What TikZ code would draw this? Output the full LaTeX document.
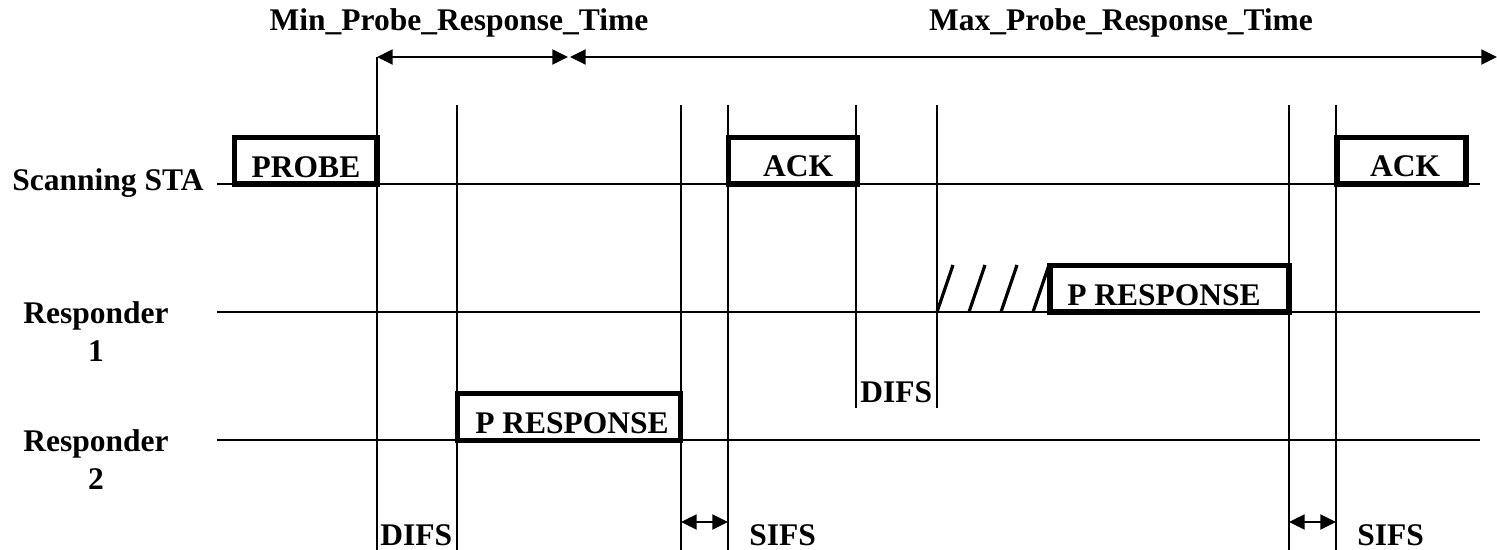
\documentclass[tikz,border=0pt]{standalone}
\usepackage{fontspec}
\setmainfont{Liberation Serif}
\usetikzlibrary{arrows.meta,positioning}
\tikzset{
    lane/.style={line width=1pt},
    tick/.style={line width=1pt},
    frame/.style={draw, line width=2.6pt, inner sep=0pt, minimum height=23.3pt},
    txt/.style={font=\fontsize{15.75}{19}\selectfont\bfseries, inner sep=0pt, align=center},
    dim/.style={{Triangle[length=7.8pt,width=7.5pt]}-{Triangle[length=7.8pt,width=7.5pt]}, line width=1pt},
    hatch/.style={line width=1.6pt},
}

\begin{document}
\begin{tikzpicture}[x=0.5pt, y=-0.5pt]
    \useasboundingbox (0,0) rectangle (1497,550);

    % stations
    \node[txt] (sta)   at (108,183) {Scanning STA};
    \node[txt] (resp1) at (96,332)  {Responder\\1};
    \node[txt] (resp2) at (96,460)  {Responder\\2};

    \coordinate (staL) at (217,184);  \coordinate (staR) at (1480,184);
    \coordinate (r1L)  at (217,312);  \coordinate (r1R)  at (1480,312);
    \coordinate (r2L)  at (217,440);  \coordinate (r2R)  at (1480,440);
    \draw[lane] (staL) -- (staR);
    \draw[lane] (r1L) -- (r1R);
    \draw[lane] (r2L) -- (r2R);

    % time marks
    \foreach \nm/\x/\ytop/\ybot in {t1/377/57/550, t2/457/105/550, t3/681/105/550,
        t4/728/105/550, t5/856/105/408, t6/937/105/408, t7/1289/105/550, t8/1336/105/550}
    {
        \coordinate (\nm-top) at (\x,\ytop);
        \coordinate (\nm-bot) at (\x,\ybot);
        \draw[tick] (\nm-top) -- (\nm-bot);
    }

    % frames
    \node[frame, minimum width=71.25pt] (probe) at (305.75,160.75) {};
    \node[frame, minimum width=64.5pt]  (ack1)  at (793,160.75) {};
    \node[frame, minimum width=64.5pt]  (ack2)  at (1401.5,160.75) {};
    \node[frame, minimum width=119.5pt] (presp1) at (1169.5,288.75) {};
    \node[frame, minimum width=111.5pt, minimum height=23.5pt] (presp2) at (569,417) {};

    \node[txt] (probelbl)  at (306,167)  {PROBE};
    \node[txt] (ack1lbl)   at (798,166)  {ACK};
    \node[txt] (ack2lbl)   at (1405,166) {ACK};
    \node[txt] (presp1lbl) at (1164,295) {P RESPONSE};
    \node[txt] (presp2lbl) at (572,423)  {P RESPONSE};

    % backoff slots
    \foreach \x in {937,969,1001,1033}
        \draw[hatch] (\x,312) -- ++(16,-47);

    % response time windows
    \node[txt] (minlbl) at (459,23)  {Min\_Probe\_Response\_Time};
    \node[txt] (maxlbl) at (1121,23) {Max\_Probe\_Response\_Time};
    \coordinate (minR) at (568,57);
    \coordinate (maxL) at (570,57);
    \coordinate (maxR) at (1497,57);
    \draw[dim] (t1-top) -- (minR);
    \draw[dim] (maxL) -- (maxR);

    % interframe spaces
    \coordinate (sifsrow) at (0,522);
    \draw[dim] (t3-top |- sifsrow) -- (t4-top |- sifsrow);
    \draw[dim] (t7-top |- sifsrow) -- (t8-top |- sifsrow);

    \node[txt, anchor=base west] (difsA) at (380,545)  {DIFS};
    \node[txt, anchor=base west] (difsB) at (860,402)  {DIFS};
    \node[txt, anchor=base west] (sifsA) at (749,545)  {SIFS};
    \node[txt, anchor=base west] (sifsB) at (1357,545) {SIFS};
\end{tikzpicture}
\end{document}
